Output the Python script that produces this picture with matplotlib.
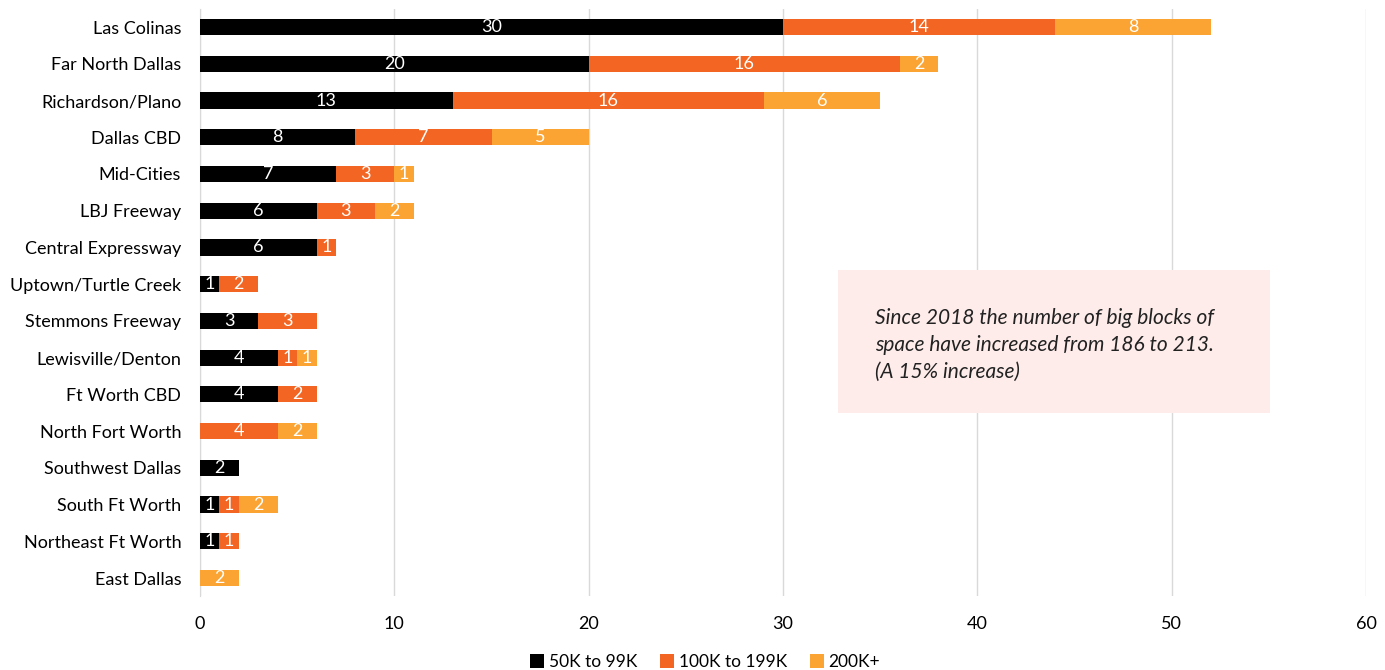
import matplotlib.pyplot as plt
import numpy as np
from matplotlib.patches import Rectangle

plt.rcParams['font.family'] = ['Lato', 'DejaVu Sans']

submarkets = ['Las Colinas', 'Far North Dallas', 'Richardson/Plano', 'Dallas CBD',
              'Mid-Cities', 'LBJ Freeway', 'Central Expressway', 'Uptown/Turtle Creek',
              'Stemmons Freeway', 'Lewisville/Denton', 'Ft Worth CBD', 'North Fort Worth',
              'Southwest Dallas', 'South Ft Worth', 'Northeast Ft Worth', 'East Dallas']
small = [30, 20, 13, 8, 7, 6, 6, 1, 3, 4, 4, 0, 2, 1, 1, 0]
medium = [14, 16, 16, 7, 3, 3, 1, 2, 3, 1, 2, 4, 0, 1, 1, 0]
large = [8, 2, 6, 5, 1, 2, 0, 0, 0, 1, 0, 2, 0, 2, 0, 2]
series = [('50K to 99K', small, '#000000'),
          ('100K to 199K', medium, '#F26522'),
          ('200K+', large, '#FBA434')]

fig = plt.figure(figsize=(13.85, 6.7), dpi=100)
ax = fig.add_axes([0.1444, 0.1099, 0.8419, 0.8771])

y = np.arange(len(submarkets))
left = np.zeros(len(submarkets))
for name, vals, color in series:
    vals = np.array(vals)
    bars = ax.barh(y, vals, left=left, height=0.44, color=color, label=name, zorder=3)
    for b, v in zip(bars, vals):
        if v > 0:
            ax.text(b.get_x() + b.get_width() / 2, b.get_y() + b.get_height() / 2, str(v),
                    ha='center', va='center', color='white', fontsize=13, zorder=4)
    left += vals

ax.set_xlim(0, 60)
ax.set_ylim(len(submarkets) - 0.5, -0.5)
ax.set_yticks(y)
ax.set_yticklabels(submarkets, fontsize=13)
ax.set_xticks(range(0, 61, 10))
ax.tick_params(axis='x', labelsize=13, length=0, pad=14)
ax.tick_params(axis='y', length=0, pad=13.5)
ax.grid(axis='x', color='#D9D9D9', linewidth=1, zorder=0)
for s in ['top', 'right', 'bottom']:
    ax.spines[s].set_visible(False)
ax.spines['left'].set_color('#D9D9D9')
ax.spines['left'].set_zorder(2)

# note box
box = Rectangle((838 / 1385, 1 - 413 / 670), (1270 - 838) / 1385, (413 - 270) / 670,
                transform=fig.transFigure, facecolor='#FDECEA', edgecolor='none', zorder=5)
fig.patches.append(box)
fig.text(875 / 1385, 1 - 345 / 670,
         'Since 2018 the number of big blocks of\nspace have increased from 186 to 213.\n(A 15% increase)',
         ha='left', va='center', fontsize=15, style='italic', color='#222222',
         linespacing=1.45, zorder=6)

fig.legend(loc='center', bbox_to_anchor=(705 / 1385, 1 - 662 / 670), ncol=3, frameon=False,
           fontsize=12.5, handlelength=0.8, handleheight=0.8, handletextpad=0.3,
           columnspacing=1.3)

fig.savefig('out.png', dpi=100)
